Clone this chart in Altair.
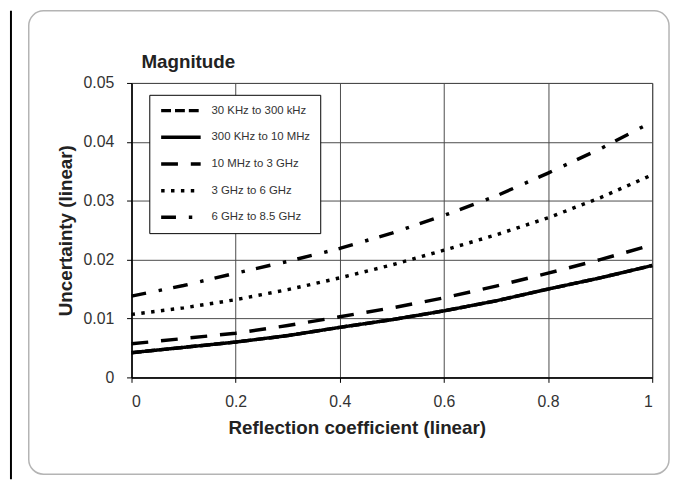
import altair as alt
import pandas as pd

# ---- data ----
reflection = [0.0, 0.1, 0.2, 0.3, 0.4, 0.5, 0.6, 0.7, 0.8, 0.9, 1.0]
series_names = ["30 KHz to 300 kHz", "300 KHz to 10 MHz", "10 MHz to 3 GHz",
                "3 GHz to 6 GHz", "6 GHz to 8.5 GHz"]
u_30k_300k = [0.0042, 0.0051, 0.0060, 0.0071, 0.0085, 0.0098, 0.0113, 0.0130, 0.0150, 0.0169, 0.0190]
u_300k_10m = [0.0042, 0.0051, 0.0060, 0.0071, 0.0085, 0.0098, 0.0113, 0.0130, 0.0150, 0.0169, 0.0190]
u_10m_3g = [0.0057, 0.0066, 0.0075, 0.0088, 0.0103, 0.0118, 0.0135, 0.0155, 0.0177, 0.0200, 0.0225]
u_3g_6g = [0.0107, 0.0118, 0.0132, 0.0149, 0.0169, 0.0191, 0.0216, 0.0242, 0.0271, 0.0305, 0.0344]
u_6g_85g = [0.0138, 0.0156, 0.0177, 0.0197, 0.0219, 0.0245, 0.0275, 0.0308, 0.0347, 0.0388, 0.0434]
x_ticks = [0, 0.2, 0.4, 0.6, 0.8, 1.0]
y_ticks = [0, 0.01, 0.02, 0.03, 0.04, 0.05]
chart_title = "Magnitude"

all_series = [u_30k_300k, u_300k_10m, u_10m_3g, u_3g_6g, u_6g_85g]
rows = []
for name, vals in zip(series_names, all_series):
    for x, v in zip(reflection, vals):
        rows.append({"series": name, "x": x, "u": v})
df = pd.DataFrame(rows)

dash_range = [[10, 4], [1, 0], [17, 13], [3.5, 6.5], [15, 13, 3.5, 11.5]]

FONT = "Liberation Sans"
W, H = 527, 298

lines = alt.Chart(df).mark_line(color="black", strokeCap="butt", strokeWidth=3.5,
                                clip=False).encode(
    x=alt.X("x:Q", scale=alt.Scale(domain=[0, 1], nice=False),
            axis=alt.Axis(values=x_ticks, format=".1~f", title="Reflection coefficient (linear)",
                          titleX=228, titleY=42, titleBaseline="top", titleAlign="center")),
    y=alt.Y("u:Q", scale=alt.Scale(domain=[0, 0.05], nice=False),
            axis=alt.Axis(values=y_ticks, format=".2~f", title="Uncertainty (linear)",
                          titlePadding=8)),
    strokeDash=alt.StrokeDash("series:N", sort=series_names,
                              scale=alt.Scale(domain=series_names, range=dash_range),
                              legend=alt.Legend(title=None, orient="none", legendX=18, legendY=12,
                                                symbolType="stroke", symbolSize=1600,
                                                symbolStrokeColor="black", symbolStrokeWidth=3.5,
                                                clipHeight=12, rowPadding=15, padding=10,
                                                labelOffset=9, labelFontSize=11.5, labelFont=FONT,
                                                labelColor="#333", strokeColor="black",
                                                fillColor="white")),
    detail="series:N",
)

deco = pd.DataFrame({"t": [chart_title]})
frame = alt.Chart(deco).mark_rect(fillOpacity=0, stroke="#b4b4b4", strokeWidth=1.5,
                                  cornerRadius=15, clip=False).encode(
    x=alt.value(-104), x2=alt.value(544), y=alt.value(-73), y2=alt.value(396))
edge = alt.Chart(deco).mark_rule(color="black", strokeWidth=2, clip=False).encode(
    x=alt.value(-122), y=alt.value(-73), y2=alt.value(401))
title = alt.Chart(deco).mark_text(font=FONT, fontSize=19, fontWeight="bold", color="#222",
                                  align="left", baseline="alphabetic", clip=False).encode(
    text="t:N", x=alt.value(10), y=alt.value(-15))

chart = alt.layer(frame, edge, title, lines).properties(
    width=W, height=H,
    autosize=alt.AutoSizeParams(type="none"),
    padding={"left": 125, "top": 73, "right": 18, "bottom": 103},
    background="white",
).configure_axis(
    labelFont=FONT, labelFontSize=16, labelColor="#333",
    titleFont=FONT, titleFontSize=19, titleFontWeight="bold", titleColor="#222",
    grid=True, gridColor="#4a4a4a", gridWidth=1,
    domainColor="black", domainWidth=1.5,
    tickColor="black", tickSize=5, labelPadding=11,
).configure_axisY(labelPadding=13).configure_view(
    stroke="#4a4a4a", strokeWidth=1
)

chart.save("out.html", embed_options={"renderer": "svg", "actions": False})
